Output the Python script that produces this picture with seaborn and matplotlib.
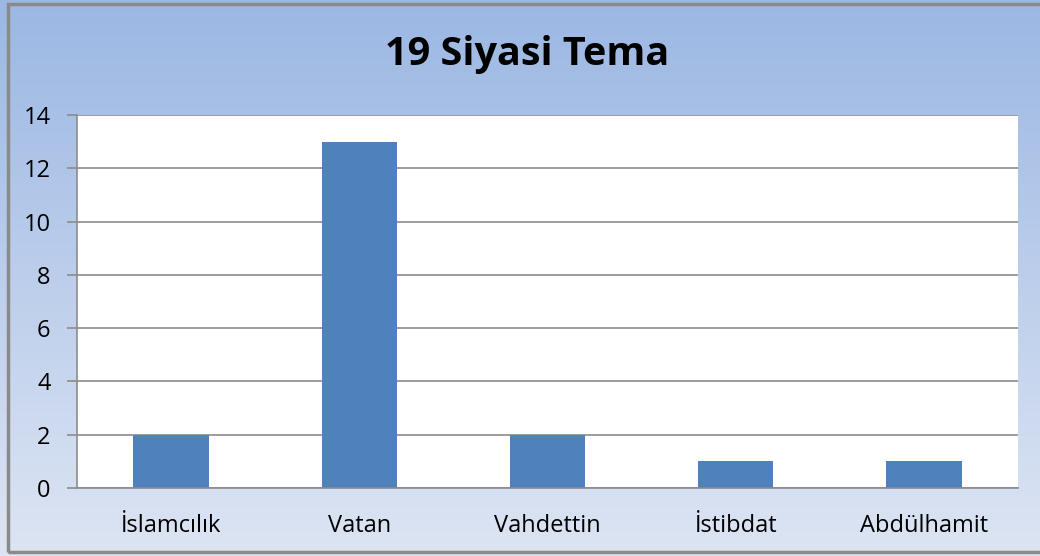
import numpy as np
import pandas as pd
import matplotlib.pyplot as plt
import seaborn as sns
from matplotlib.patches import Rectangle

# veriler
temalar = ["İslamcılık", "Vatan", "Vahdettin", "İstibdat", "Abdülhamit"]
sayilar = [2, 13, 2, 1, 1]
y_isaretleri = [0, 2, 4, 6, 8, 10, 12, 14]
baslik = "19 Siyasi Tema"

df = pd.DataFrame({"tema": temalar, "sayi": sayilar})

sns.set_style("white")
plt.rcParams["font.family"] = ["Open Sans", "DejaVu Sans"]

fig = plt.figure(figsize=(10.4, 5.56), dpi=100)

# arka plan gradyanı
arka = fig.add_axes([0, 0, 1, 1], zorder=0)
ust = np.array([0.608, 0.718, 0.890])
alt = np.array([0.867, 0.898, 0.953])
t = np.linspace(0, 1, 256)[:, None]
grad = (ust * (1 - t) + alt * t)[:, None, :]
arka.imshow(grad, aspect="auto", extent=[0, 1, 0, 1], origin="upper")
arka.add_patch(Rectangle((8 / 1040, 4 / 556), 1.2, 548 / 556,
                         fill=False, edgecolor="#8a8a8a", linewidth=2.5,
                         transform=arka.transAxes))
arka.set_xlim(0, 1)
arka.set_ylim(0, 1)
arka.axis("off")

ax = fig.add_axes([77 / 1040, 68 / 556, 941 / 1040, 373 / 556], zorder=1)
ax.set_facecolor("white")

sns.barplot(data=df, x="tema", y="sayi", color="#4F81BD", width=0.4,
            saturation=1, linewidth=0, ax=ax)

ax.set_ylim(0, 14)
ax.set_xlim(-0.5, len(temalar) - 0.5)
ax.set_yticks(y_isaretleri)
ax.yaxis.grid(True, color="#8c8c8c", linewidth=1.2)
ax.set_axisbelow(True)

ax.set_xticks(range(len(temalar)))
ax.set_xticklabels(temalar)
ax.set_xticks(np.arange(-0.5, len(temalar)), minor=True)
ax.tick_params(axis="x", which="major", length=0, pad=19, labelsize=17,
               labelcolor="black")
ax.tick_params(axis="x", which="minor", length=7, width=1.2,
               color="#8c8c8c", direction="out")
ax.tick_params(axis="y", length=7, width=1.2, color="#8c8c8c",
               direction="out", labelsize=17, pad=12, left=True,
               labelcolor="black")

for s in ["top", "right"]:
    ax.spines[s].set_visible(False)
for s in ["left", "bottom"]:
    ax.spines[s].set_color("#8c8c8c")
    ax.spines[s].set_linewidth(1.2)

ax.set_xlabel("")
ax.set_ylabel("")

fig.text(527 / 1040, 1 - 55 / 556, baslik, ha="center", va="center",
         fontsize=28.5, fontweight="bold", color="black")

fig.savefig("out.png", dpi=100)
